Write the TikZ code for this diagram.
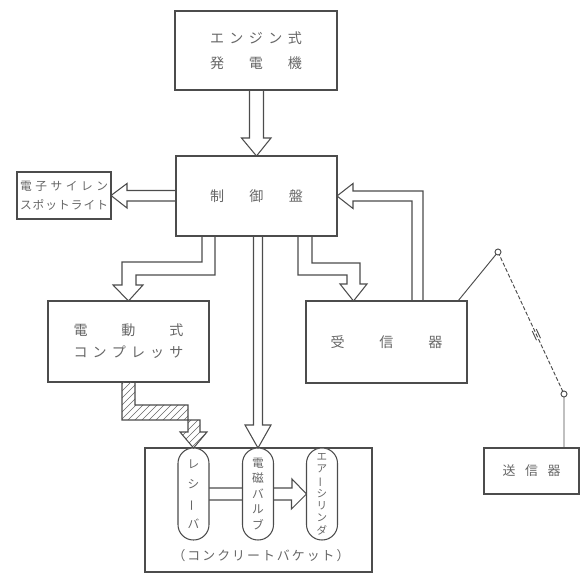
\documentclass[tikz,border=0pt]{standalone}
\usepackage{fontspec}
\setmainfont{Noto Sans CJK JP}
\usepackage{graphicx}
\usetikzlibrary{positioning,calc,backgrounds}

\newcommand{\tatebo}{\rotatebox[origin=c]{90}{ー}}

\begin{document}
\begin{tikzpicture}[x=0.3mm, y=-0.3mm,
    box/.style={rectangle, draw=black!70, line width=0.9pt, inner sep=0pt, outer sep=0pt, align=center, text=black!60, font=\fontsize{12}{19}\selectfont},
    capsule/.style={rectangle, rounded corners=4.6mm, draw=black!70, line width=0.9pt, fill=white, minimum width=9.3mm, minimum height=27.6mm, inner sep=0pt, outer sep=0pt, align=center, text=black!60},
    blk/.style={draw=black!70, line width=0.9pt, line join=miter},
    hatch/.style={draw=black!60, line width=0.6pt},
    wire/.style={draw=black!70, line width=0.8pt}]

\useasboundingbox (0,0) rectangle (586,575);

% Boxes
\node[box, minimum width=48.6mm, minimum height=23.7mm, font=\fontsize{12}{21}\selectfont] (engine) at (256,50.5) {\makebox[27.6mm][s]{エ\hfill ン\hfill ジ\hfill ン\hfill 式}\\\makebox[27.6mm][s]{発\hfill 電\hfill 機}};
\node[box, minimum width=48.3mm, minimum height=24mm] (ctrl) at (256.5,196) {\makebox[27.9mm][s]{制\hfill 御\hfill 盤}};
\node[box, minimum width=28.2mm, minimum height=14.1mm, font=\fontsize{10}{16}\selectfont] (siren) at (64,195.5) {\makebox[26.4mm][s]{電\hfill 子\hfill サ\hfill イ\hfill レ\hfill ン}\\\makebox[26.4mm][s]{ス\hfill ポ\hfill ッ\hfill ト\hfill ラ\hfill イ\hfill ト}};
\node[box, minimum width=48.3mm, minimum height=24.3mm] (comp) at (128.5,341.5) {\makebox[33mm][s]{電\hfill 動\hfill 式}\\\makebox[33mm][s]{コ\hfill ン\hfill プ\hfill レ\hfill ッ\hfill サ}};
\node[box, minimum width=48.3mm, minimum height=24.6mm] (recv) at (386.5,342) {\makebox[33.6mm][s]{受\hfill 信\hfill 器}};
\node[box, minimum width=68.1mm, minimum height=37.2mm] (bucket) at (258.5,510) {};
\node[box, minimum width=28.5mm, minimum height=13.8mm, font=\fontsize{11}{13}\selectfont] (trans) at (531.5,471) {\makebox[17.4mm][s]{送\hfill 信\hfill 器}};

% Inside the bucket
\node[capsule, font=\fontsize{10}{17}\selectfont] (rcv) at (193.5,494) {レ\\シ\\\tatebo\\バ};
\node[capsule, font=\fontsize{10}{13.2}\selectfont] (valve) at (258,494) {電\\磁\\バ\\ル\\ブ};
\node[capsule, font=\fontsize{9}{10.5}\selectfont] (cyl) at (322,494) {エ\\ア\\\tatebo\\シ\\リ\\ン\\ダ};
\node[text=black!60, inner sep=0pt, font=\fontsize{11}{13}\selectfont] (bkttxt) at (261,556) {\makebox[53.1mm][s]{（\hfill コ\hfill ン\hfill ク\hfill リ\hfill ー\hfill ト\hfill バ\hfill ケ\hfill ッ\hfill ト\hfill ）}};

% Block arrows
\draw[blk] ($(engine.south)+(-6.5,0)$) -- ++(0,48) -- ++(-8,0) -- (ctrl.north) -- ++(14.5,-18) -- ++(-7.5,0) -- ++(0,-48);
\draw[blk] ($(ctrl.west)+(0,-5.5)$) -- ++(-49,0) -- ++(0,-7) -- (siren.east) -- ++(16,12.5) -- ++(0,-7) -- ++(49,0);
\draw[blk] ($(ctrl.south)+(-54.5,0)$) -- ++(0,26) -- ++(-80,0) -- ++(0,23) -- ++(-9,0) -- (comp.north) -- ++(14.5,-16) -- ++(-7,0) -- ++(0,-10) -- ++(79,0) -- ++(0,-39);
\draw[blk] ($(ctrl.south)+(41.5,0)$) -- ++(0,39) -- ++(49,0) -- ++(0,9) -- ++(-7,0) -- ($(recv.north west)+(47.5,0)$) -- ++(13.5,-17) -- ++(-7,0) -- ++(0,-21) -- ++(-48,0) -- ++(0,-27);
\draw[blk] ($(recv.north east)+(-55,0)$) -- ++(0,-100) -- ++(-59,0) -- ++(0,7.5) -- (ctrl.east) -- ++(16,-12.5) -- ++(0,7.5) -- ++(70,0) -- ++(0,110);
\draw[blk] ($(ctrl.south)+(-3,0)$) -- ++(0,189) -- ++(-8.5,0) -- (valve.north) -- ++(13,-23) -- ++(-8.5,0) -- ++(0,-189);
% hatched air line
\begin{scope}
  \clip ($(comp.south)+(-6.5,0)$) -- ++(0,38) -- ++(78,0) -- ++(0,12) -- ++(7,0) -- (rcv.north) -- ++(-13.5,-16) -- ++(8,0) -- ++(0,-27) -- ++(-53,0) -- ++(0,-23) -- cycle;
  \foreach \k in {40,47,...,215}
    \draw[hatch] (\k,452) -- ++(80,-80);
\end{scope}
\draw[blk] ($(comp.south)+(-6.5,0)$) -- ++(0,38) -- ++(78,0) -- ++(0,12) -- ++(7,0) -- (rcv.north) -- ++(-13.5,-16) -- ++(8,0) -- ++(0,-27) -- ++(-53,0) -- ++(0,-23);
\begin{scope}[on background layer]
\draw[blk] ($(rcv.east)+(0,-6)$) -- ++(83,0) -- ++(0,-9) -- (cyl.west) -- ++(-15,15) -- ++(0,-9) -- ++(-83,0);
\end{scope}

% Antenna link
\coordinate (ant1) at (498,252);
\coordinate (ant2) at (564,394);
\draw[wire] ($(recv.north east)+(-9,0)$) -- (ant1);
\draw[wire, dash pattern=on 1.2mm off 0.6mm] (ant1) -- (ant2);
\draw[wire] (ant2) -- ($(trans.north west)+(80,0)$);
\draw[wire] ($(ant1)!0.55!(ant2)+(2,-1)$) -- ++(4.2,9.1);
\draw[wire] ($(ant1)!0.55!(ant2)+(-2,1)$) -- ++(4.2,9.1);
\draw[wire, fill=white] (ant1) circle (0.9mm);
\draw[wire, fill=white] (ant2) circle (0.9mm);

\end{tikzpicture}
\end{document}
